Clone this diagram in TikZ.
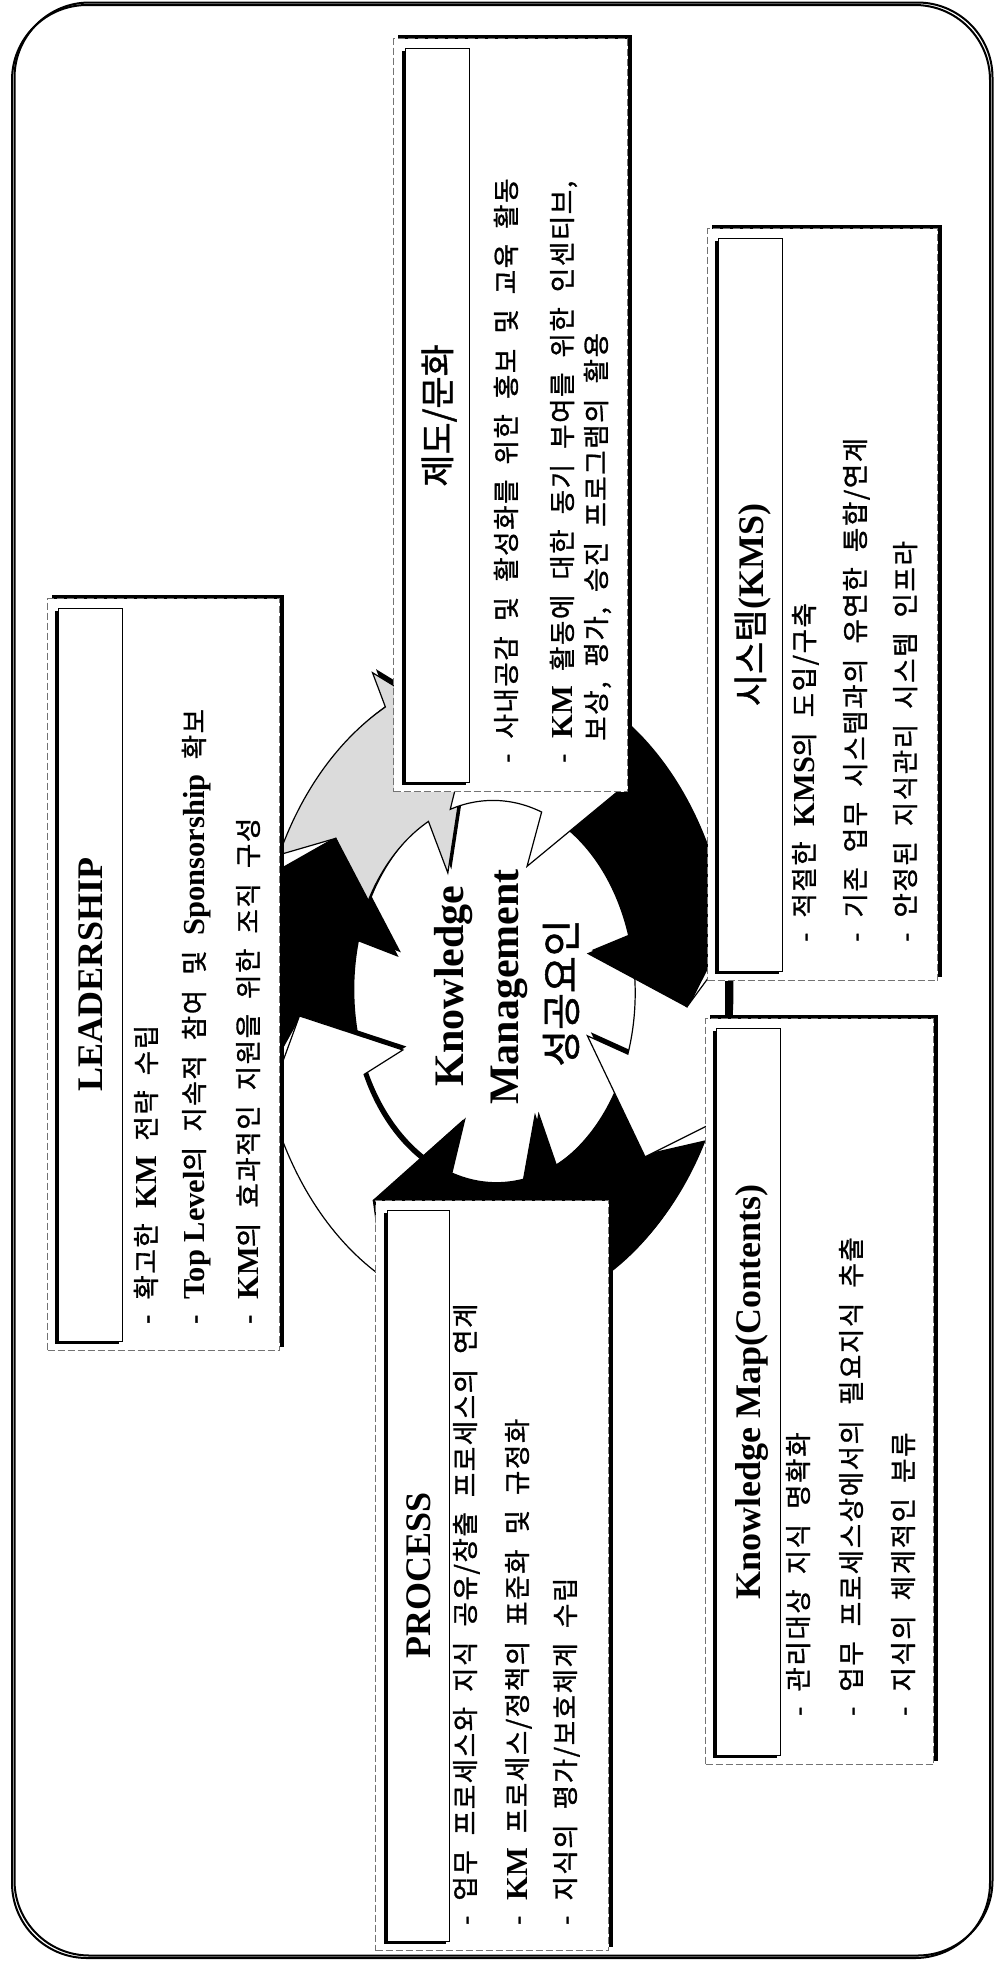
\documentclass[tikz,border=0pt]{standalone}
\usepackage{fontspec}
\setmainfont{Liberation Serif}
\newfontfamily\krfont{Noto Sans CJK KR}[WordSpace=2, FakeBold=1.2]
\newfontfamily\krbul{Noto Sans CJK KR}[WordSpace=2, FakeBold=1.2, LetterSpace=6]
\usetikzlibrary{calc,shadows}
\newcommand\lbf[1]{{\rmfamily\bfseries\fontsize{30.5}{34}\selectfont #1}}
% one arrow of the ring: tail at angle #1, head barb at angle #2 (ellipse centre 493,993)
\newcommand\ringarrow[2]{%
 plot[domain={#1+9.5}:{#2}, samples=30, variable=\ang] ({493+237*cos(\ang)},{993+321*sin(\ang)})
 -- ({493+265.4*cos(#2)},{993+359.5*sin(#2)})
 -- ({493+194.3*cos(#2+20)},{993+263.2*sin(#2+20)})
 -- ({493+99.5*cos(#2)},{993+134.8*sin(#2)})
 -- ({493+142.2*cos(#2)},{993+192.6*sin(#2)})
 -- plot[domain={#2}:{#1+9.5}, samples=30, variable=\ang] ({493+142.2*cos(\ang)},{993+192.6*sin(\ang)})
 -- ({493+194.3*cos(#1+20)},{993+263.2*sin(#1+20)})
 -- cycle}
\begin{document}
\begin{tikzpicture}[x=1pt,y=-1pt,
  obox/.style={fill=white, draw=black!55, line width=1pt, dash pattern=on 7pt off 3pt,
    minimum width=232pt, minimum height=752pt, anchor=north west, inner sep=0pt,
    drop shadow={shadow xshift=4pt, shadow yshift=4pt, fill=black, opacity=1}},
  tbar/.style={fill=white, draw=black, line width=0.8pt, minimum width=64pt,
    minimum height=733pt, anchor=north west, inner sep=0pt,
    drop shadow={shadow xshift=-3pt, shadow yshift=-3pt, fill=black, opacity=1}},
  bl/.style={font=\krbul\fontsize{26.5}{32}\selectfont, rotate=90, anchor=base west, inner sep=0pt},
  ttl/.style={font=\rmfamily\bfseries\fontsize{36}{40}\selectfont, rotate=90, anchor=base, inner sep=0pt},
  kttl/.style={font=\krfont\fontsize{35}{40}\selectfont, rotate=90, anchor=base, inner sep=0pt},
  ctr/.style={font=\rmfamily\bfseries\fontsize{42}{48}\selectfont, rotate=90, anchor=base, inner sep=0pt},
]
\useasboundingbox (0,0) rectangle (997,1965);
\fill[white] (0,0) rectangle (997,1965);
% outer frame
\draw[line width=2pt, rounded corners=75pt, shift={(2.5,-2.5)}] (12,5) rectangle (990,1958);
\draw[line width=2pt, rounded corners=75pt] (12,5) rectangle (990,1958);
% ring of arrows: shadows first
\foreach \p/\b in {196/243,155/196,468/515,425/468,378.5/425,343/378.5,290/343,243/290}
  \fill[black, shift={(3.5,-3.5)}] \ringarrow{\p}{\b};
\foreach \p/\b/\c in {196/243/black!14,155/196/black,468/515/white,425/468/black,378.5/425/black,343/378.5/white,290/343/black,243/290/white}
  \filldraw[fill=\c, draw=black, line width=1.2pt, line join=miter] \ringarrow{\p}{\b};
% centre text
\node[ctr] (kn1) at (463,986) {Knowledge};
\node[ctr] (kn2) at (518,987) {Management};
\node[font=\krfont\fontsize{40}{46}\selectfont, rotate=90, anchor=base, inner sep=0pt] (kn3) at (576,993) {성공요인};
% LEADERSHIP
\node[obox] (lead) at (47,598) {};
\node[tbar] (leadbar) at ($(lead.north west)+(11,10)$) {};
\node[ttl] (leadt) at ($(leadbar.center)+(12,0)$) {LEADERSHIP};
\node[bl] (lead1) at (156,1324) {- 확고한 \lbf{KM} 전략 수립};
\node[bl] (lead2) at (204,1324) {- \lbf{Top Level}의 지속적 참여 및 \lbf{Sponsorship} 확보};
\node[bl] (lead3) at (258,1324) {- \lbf{KM}의 효과적인 지원을 위한 조직 구성};
% 제도/문화
\node[obox, minimum width=234pt, minimum height=753pt] (inst) at (393,38) {};
\node[tbar, minimum height=734pt] (instbar) at ($(inst.north west)+(12,10)$) {};
\node[kttl] (instt) at ($(instbar.center)+(13,0)$) {제도/문화};
\node[bl] (inst1) at (516,763) {- 사내공감 및 활성화를 위한 홍보 및 교육 활동};
\node[bl] (inst2) at (572,763) {- \lbf{KM} 활동에 대한 동기 부여를 위한 인센티브,};
\node[bl] (inst3) at (606,741) {보상, 평가, 승진 프로그램의 활용};
% 시스템(KMS)
\node[obox, minimum width=230pt] (kms) at (707,228) {};
\node[tbar] (kmsbar) at ($(kms.north west)+(11,10)$) {};
\node[kttl] (kmst) at ($(kmsbar.center)+(13,0)$) {시스템{\rmfamily\bfseries\fontsize{36}{40}\selectfont (KMS)}};
\node[bl] (kms1) at (814,942) {- 적절한 \lbf{KMS}의 도입/구축};
\node[bl] (kms2) at (865,942) {- 기존 업무 시스템과의 유연한 통합/연계};
\node[bl] (kms3) at (915,942) {- 안정된 지식관리 시스템 인프라};
% Knowledge Map
\node[obox, minimum width=228pt, minimum height=746pt] (kmap) at (705,1018) {};
\node[tbar, minimum height=727pt] (kmapbar) at ($(kmap.north west)+(11,10)$) {};
\node[ttl] (kmapt) at ($(kmapbar.center)+(12,0)$) {Knowledge Map(Contents)};
\node[bl] (kmap1) at (808,1716) {- 관리대상 지식 명확화};
\node[bl] (kmap2) at (861,1716) {- 업무 프로세스상에서의 필요지식 추출};
\node[bl] (kmap3) at (913,1716) {- 지식의 체계적인 분류};
% PROCESS
\node[obox, minimum width=233pt, minimum height=750pt] (proc) at (375,1200) {};
\node[tbar, minimum width=62pt, minimum height=731pt] (procbar) at ($(proc.north west)+(12,10)$) {};
\node[ttl] (proct) at ($(procbar.center)+(12,0)$) {PROCESS};
\node[bl] (proc1) at (475,1925) {- 업무 프로세스와 지식 공유/창출 프로세스의 연계};
\node[bl] (proc2) at (527,1925) {- \lbf{KM} 프로세스/정책의 표준화 및 규정화};
\node[bl] (proc3) at (575,1925) {- 지식의 평가/보호체계 수립};
% connector between KMS and Knowledge Map boxes
\coordinate (cx) at (728,0);
\draw[line width=6pt] (kms.south -| cx) -- (kmap.north -| cx);
\end{tikzpicture}
\end{document}
